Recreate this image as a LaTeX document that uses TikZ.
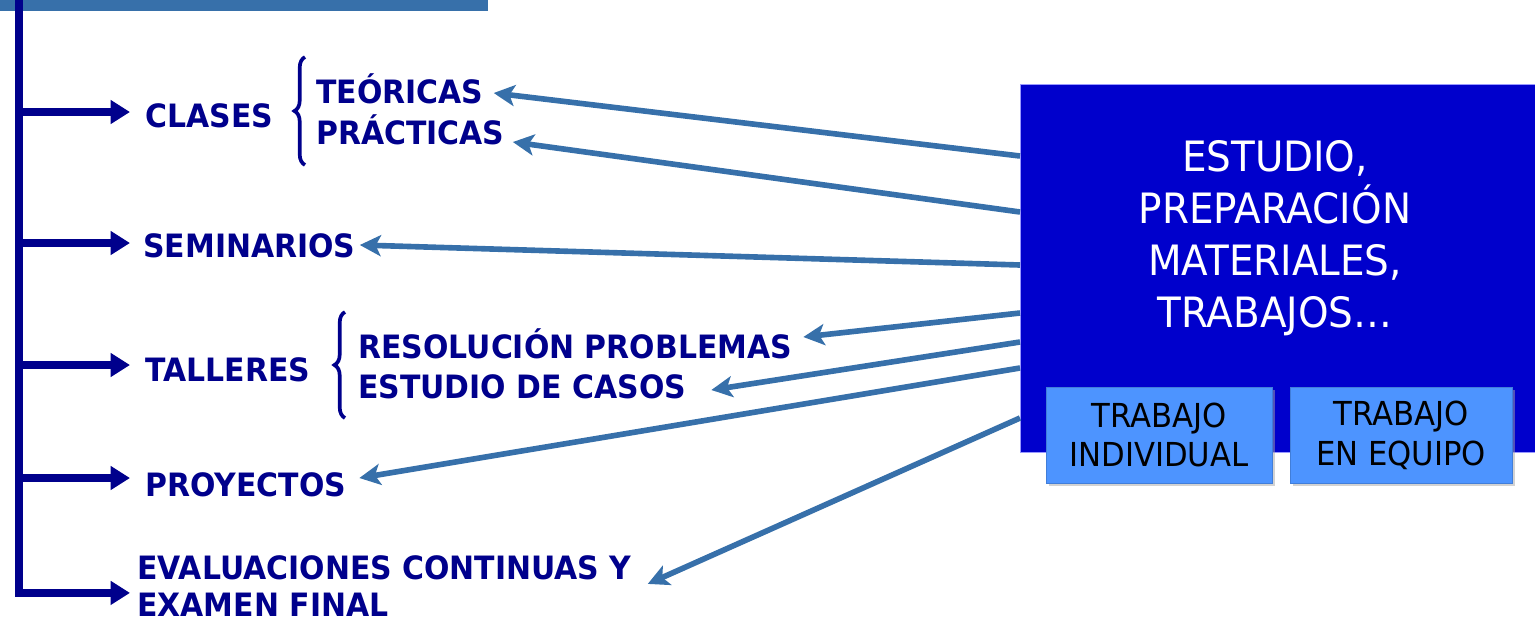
\documentclass[tikz,border=0pt]{standalone}
\usepackage{fontspec}
\setmainfont{DejaVu Sans}[FakeStretch=0.93]
\usetikzlibrary{arrows.meta,calc,decorations.pathreplacing,shadows}

\definecolor{navy}{RGB}{0,0,140}
\definecolor{steel}{RGB}{55,112,170}
\definecolor{boxblue}{RGB}{0,0,204}
\definecolor{lightbox}{RGB}{77,148,255}

\begin{document}
\begin{tikzpicture}[x=0.02cm, y=-0.02cm,
    tag/.style={inner sep=0pt, text=navy, font=\fontsize{18.3}{21.2}\selectfont\bfseries},
    item/.style={tag, anchor=west, text height=13.4pt, text depth=0pt},
    branch/.style={draw=navy, line width=4.2pt, -{Triangle[length=11pt,width=13pt]}},
    link/.style={draw=steel, line width=3.2pt, -{Stealth[length=12pt,width=12pt,inset=3pt]}},
    curly/.style={draw=navy, line width=2.1pt, decorate, decoration={brace, amplitude=6pt}},
    workbox/.style={fill=lightbox, draw=lightbox!85!black, minimum height=1.92cm, align=center,
        font=\fontsize{18.8}{22.7}\selectfont, drop shadow={shadow xshift=1.5pt, shadow yshift=-1.5pt, fill=black!35}}]
    \useasboundingbox (0,0) rectangle (1535,623);

    % header bar and trunk
    \fill[steel] (0,0) rectangle (488,11);
    \coordinate (top) at (19,0);
    \coordinate (bottom) at (19,597);
    \draw[navy, line width=4pt] (top) -- (bottom);

    % left column
    \node[item] (clases) at (145,116) {CLASES};
    \node[item] (seminarios) at (143,246) {SEMINARIOS};
    \node[item] (talleres) at (145,370) {TALLERES};
    \node[item] (proyectos) at (145,485) {PROYECTOS};
    \node[tag, anchor=north west, align=left] (evaluaciones) at (137,555) {EVALUACIONES CONTINUAS Y\\EXAMEN FINAL};

    \node[item] (teoricas) at (316,92) {TEÓRICAS};
    \node[item] (practicas) at (316,133) {PRÁCTICAS};
    \node[item] (resolucion) at (358,347) {RESOLUCIÓN PROBLEMAS};
    \node[item] (casos) at (358,387) {ESTUDIO DE CASOS};

    \draw[curly] (305,165) -- (305,57);
    \draw[curly] (345,418) -- (345,312);

    \draw[branch] ($(top |- clases.west)+(0,-4)$) -- ($(clases.west)+(-15,-4)$);
    \draw[branch] ($(top |- seminarios.west)+(0,-3)$) -- ($(seminarios.west)+(-13,-3)$);
    \draw[branch] ($(top |- talleres.west)+(0,-5)$) -- ($(talleres.west)+(-15,-5)$);
    \draw[branch] ($(top |- proyectos.west)+(0,-7)$) -- ($(proyectos.west)+(-15,-7)$);
    \draw[branch] ($(top |- evaluaciones.west)+(0,7)$) -- ($(evaluaciones.west)+(-7,7)$);

    % right block
    \node[fill=boxblue, draw=blue!40, line width=0.6pt, minimum width=10.9cm, minimum height=7.36cm,
        anchor=north west, inner sep=0pt] (estudio) at (1020,84) {};
    \node[text=white, align=center, font=\fontsize{23.8}{29.5}\selectfont] (estudiotxt) at (1275,238)
        {ESTUDIO,\\PREPARACIÓN\\MATERIALES,\\TRABAJOS…};
    \node[workbox, minimum width=4.52cm] (individual) at (1159,435) {TRABAJO\\INDIVIDUAL};
    \node[workbox, minimum width=4.44cm] (equipo) at (1401,435) {TRABAJO\\EN EQUIPO};

    % links
    \draw[link] ($(estudio.north west)+(0,72)$) -- ($(teoricas.east)+(10,1)$);
    \draw[link] ($(estudio.north west)+(0,128)$) -- ($(practicas.east)+(8,9)$);
    \draw[link] ($(estudio.north west)+(0,181)$) -- ($(seminarios.east)+(4,-1)$);
    \draw[link] ($(estudio.north west)+(0,229)$) -- ($(resolucion.east)+(11,-10)$);
    \draw[link] ($(estudio.north west)+(0,258)$) -- ($(casos.east)+(25,3)$);
    \draw[link] ($(estudio.north west)+(0,284)$) -- ($(proyectos.east)+(13,-7)$);
    \draw[link] ($(estudio.north west)+(0,334)$) -- ($(evaluaciones.east)+(16,-2)$);
\end{tikzpicture}
\end{document}
